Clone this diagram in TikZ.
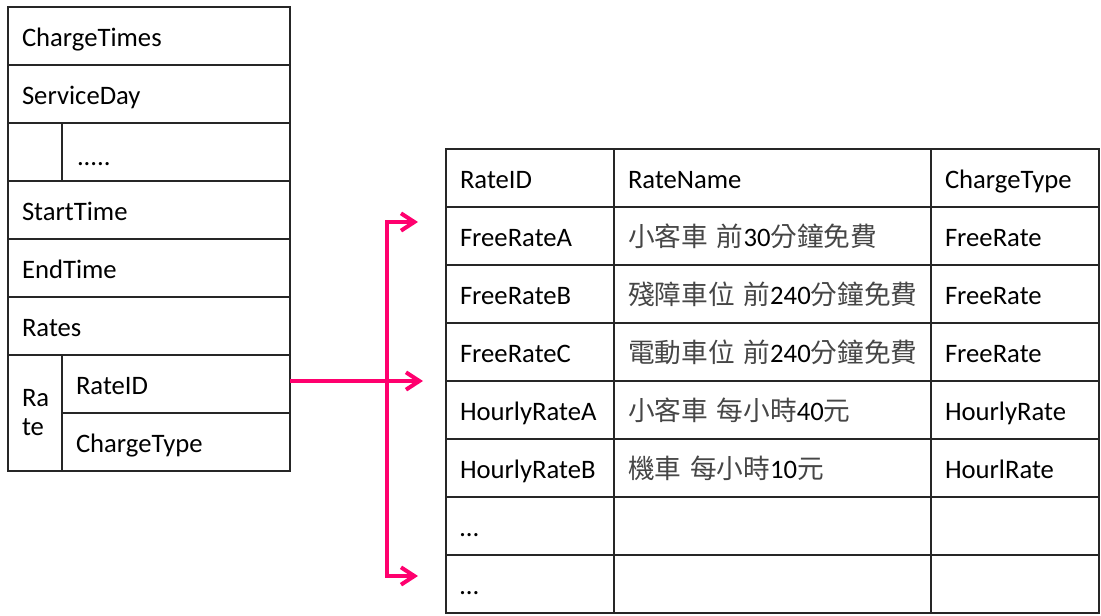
\documentclass[tikz,border=0pt]{standalone}
\usepackage{fontspec}
\setmainfont{Carlito}
\newfontfamily\cjk{Noto Sans CJK TC}
\usetikzlibrary{arrows.meta}
\definecolor{pk}{RGB}{255,0,110}
\definecolor{ln}{RGB}{38,38,38}
\definecolor{zh}{RGB}{70,70,70}
\newcommand\zht[1]{{\cjk\color{zh}#1}}
\begin{document}
\begin{tikzpicture}[x=0.75pt,y=-0.75pt,
  font=\fontsize{20}{21.75}\selectfont,
  cell/.style={draw=ln, line width=1.5pt, rectangle, anchor=north west,
    outer sep=0pt, inner xsep=10.5pt, inner ysep=0pt, minimum height=43.5pt,
    text height=16pt, text depth=1pt, align=left},
  wfull/.style={text width=190.5pt},
  wnarrow/.style={text width=19.5pt},
  wsub/.style={text width=150pt},
  wra/.style={text width=105pt},
  wrb/.style={text width=216.75pt},
  link/.style={draw=pk, line width=3pt},
  tip/.style={Straight Barb[length=10pt,width=13pt]}
]
\useasboundingbox (0,0) rectangle (1101,615);
% left table
\node[cell,wfull] (ct) at (8,7) {ChargeTimes};
\node[cell,wfull] (sd) at (8,65) {ServiceDay};
\node[cell,wnarrow] (bl) at (8,123) {};
\node[cell,wsub] (dots) at (62,123) {\hspace*{0.75pt}\raisebox{-2.25pt}{.....}};
\node[cell,wfull] (st) at (8,181) {StartTime};
\node[cell,wfull] (et) at (8,239) {EndTime};
\node[cell,wfull] (rs) at (8,297) {Rates};
\node[cell,wnarrow,minimum height=87pt,text height={},text depth={}] (rt) at (8,355) {Ra\\te};
\node[cell,wsub] (rid) at (62,355) {RateID};
\node[cell,wsub] (rct) at (62,413) {ChargeType};
% right table
\node[cell,wra] (h1) at (446,149) {RateID};
\node[cell,wrb] (h2) at (614,149) {RateName};
\node[cell,wra] (h3) at (931,149) {ChargeType};
\node[cell,wra] (a1) at (446,207) {FreeRateA};
\node[cell,wrb] (a2) at (614,207) {\mbox{\zht{小客車} \zht{前}30\zht{分鐘免費}}};
\node[cell,wra] (a3) at (931,207) {FreeRate};
\node[cell,wra] (b1) at (446,265) {FreeRateB};
\node[cell,wrb] (b2) at (614,265) {\mbox{\zht{殘障車位} \zht{前}240\zht{分鐘免費}}};
\node[cell,wra] (b3) at (931,265) {FreeRate};
\node[cell,wra] (c1) at (446,323) {FreeRateC};
\node[cell,wrb] (c2) at (614,323) {\mbox{\zht{電動車位} \zht{前}240\zht{分鐘免費}}};
\node[cell,wra] (c3) at (931,323) {FreeRate};
\node[cell,wra] (d1) at (446,381) {HourlyRateA};
\node[cell,wrb] (d2) at (614,381) {\mbox{\zht{小客車} \zht{每小時}40\zht{元}}};
\node[cell,wra] (d3) at (931,381) {HourlyRate};
\node[cell,wra] (e1) at (446,439) {HourlyRateB};
\node[cell,wrb] (e2) at (614,439) {\mbox{\zht{機車} \zht{每小時}10\zht{元}}};
\node[cell,wra] (e3) at (931,439) {HourlRate};
\node[cell,wra] (f1) at (446,497) {…};
\node[cell,wrb] (f2) at (614,497) {};
\node[cell,wra] (f3) at (931,497) {};
\node[cell,wra] (g1) at (446,555) {…};
\node[cell,wrb] (g2) at (614,555) {};
\node[cell,wra] (g3) at (931,555) {};
% connectors
\coordinate (tM) at (423,381);
\coordinate (tA) at (418,222);
\coordinate (tB) at (418,576);
\coordinate (jn) at (386.5,381);
\draw[link,-{Straight Barb[length=10pt,width=13pt]}] (rid.east |- tM) -- (tM);
\draw[link,{Straight Barb[length=10pt,width=13pt]}-{Straight Barb[length=10pt,width=13pt]}] (tA) -- (jn |- tA) -- (jn |- tB) -- (tB);
\end{tikzpicture}
\end{document}
